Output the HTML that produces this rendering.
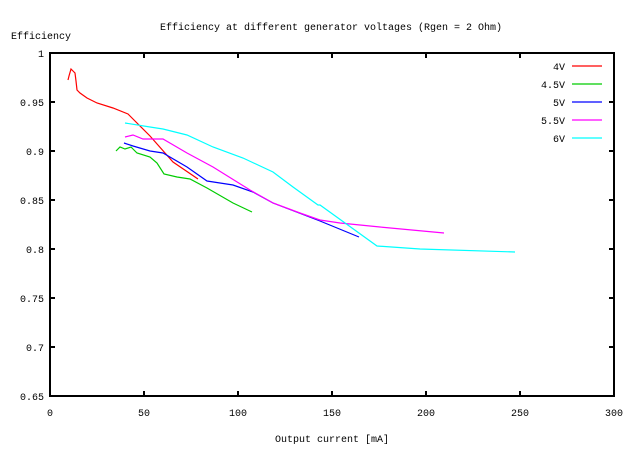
<!DOCTYPE html>
<html><head><meta charset="utf-8"><style>body{margin:0;background:#fff}svg{display:block}text{font-family:"Liberation Mono",monospace;font-size:10px;fill:#000}</style></head><body>
<svg width="640" height="450" viewBox="0 0 640 450">
<rect width="640" height="450" fill="#fff"/>
<text x="331" y="30" text-anchor="middle">Efficiency at different generator voltages (Rgen = 2 Ohm)</text>
<text x="11" y="39">Efficiency</text>
<text x="332" y="442" text-anchor="middle">Output current [mA]</text>
<g stroke="#000" stroke-width="2" shape-rendering="crispEdges">
<line x1="50" y1="102" x2="55" y2="102"/><line x1="50" y1="151" x2="55" y2="151"/><line x1="50" y1="200" x2="55" y2="200"/><line x1="50" y1="249" x2="55" y2="249"/><line x1="50" y1="298" x2="55" y2="298"/><line x1="50" y1="347" x2="55" y2="347"/>
<line x1="614" y1="102" x2="609" y2="102"/><line x1="614" y1="151" x2="609" y2="151"/><line x1="614" y1="200" x2="609" y2="200"/><line x1="614" y1="249" x2="609" y2="249"/><line x1="614" y1="298" x2="609" y2="298"/><line x1="614" y1="347" x2="609" y2="347"/>
<line x1="144" y1="396" x2="144" y2="391"/><line x1="238" y1="396" x2="238" y2="391"/><line x1="332" y1="396" x2="332" y2="391"/><line x1="426" y1="396" x2="426" y2="391"/><line x1="520" y1="396" x2="520" y2="391"/>
<line x1="144" y1="53" x2="144" y2="58"/><line x1="238" y1="53" x2="238" y2="58"/><line x1="332" y1="53" x2="332" y2="58"/><line x1="426" y1="53" x2="426" y2="58"/><line x1="520" y1="53" x2="520" y2="58"/>
<rect x="50" y="53" width="564" height="343" fill="none"/>
</g>
<g text-anchor="end">
<text x="44" y="57">1</text><text x="44" y="106">0.95</text><text x="44" y="155">0.9</text><text x="44" y="204">0.85</text><text x="44" y="253">0.8</text><text x="44" y="302">0.75</text><text x="44" y="351">0.7</text><text x="44" y="400">0.65</text>
</g>
<g text-anchor="middle">
<text x="50" y="416">0</text><text x="144" y="416">50</text><text x="238" y="416">100</text><text x="332" y="416">150</text><text x="426" y="416">200</text><text x="520" y="416">250</text><text x="614" y="416">300</text>
</g>
<g fill="none" stroke-width="1.2">
<polyline stroke="#f00" points="68,80 69,76 71,69 73,71 75,73 76,81 77,90 80,93 87,98 97,103 113,108 128,114 133,119 150,136 173,162 198,179"/>
<polyline stroke="#0c0" points="116,151 120,147 125,149 131,147 137,153 150,157 157,163 164,174 177,177 190,179 207,188 233,203 252,212"/>
<polyline stroke="#00f" points="124,143 133,146 150,151 163,153 187,167 207,181 220,183 233,185 253,192 273,203 320,221 359,237"/>
<polyline stroke="#f0f" points="125,137 133,135 143,139 163,139 187,153 213,167 250,190 273,203 300,213 317,219 320,220 340,223 380,227 444,233"/>
<polyline stroke="#0ff" points="125,123 150,127 163,129 187,135 213,147 243,158 273,172 293,187 318,205 320,205 377,246 420,249 515,252"/>
<line stroke="#f00" x1="572" y1="66" x2="602" y2="66"/>
<line stroke="#0c0" x1="572" y1="84" x2="602" y2="84"/>
<line stroke="#00f" x1="572" y1="102" x2="602" y2="102"/>
<line stroke="#f0f" x1="572" y1="120" x2="602" y2="120"/>
<line stroke="#0ff" x1="572" y1="138" x2="602" y2="138"/>
</g>
<g text-anchor="end">
<text x="565" y="70">4V</text><text x="565" y="88">4.5V</text><text x="565" y="106">5V</text><text x="565" y="124">5.5V</text><text x="565" y="142">6V</text>
</g>
</svg>
</body></html>
